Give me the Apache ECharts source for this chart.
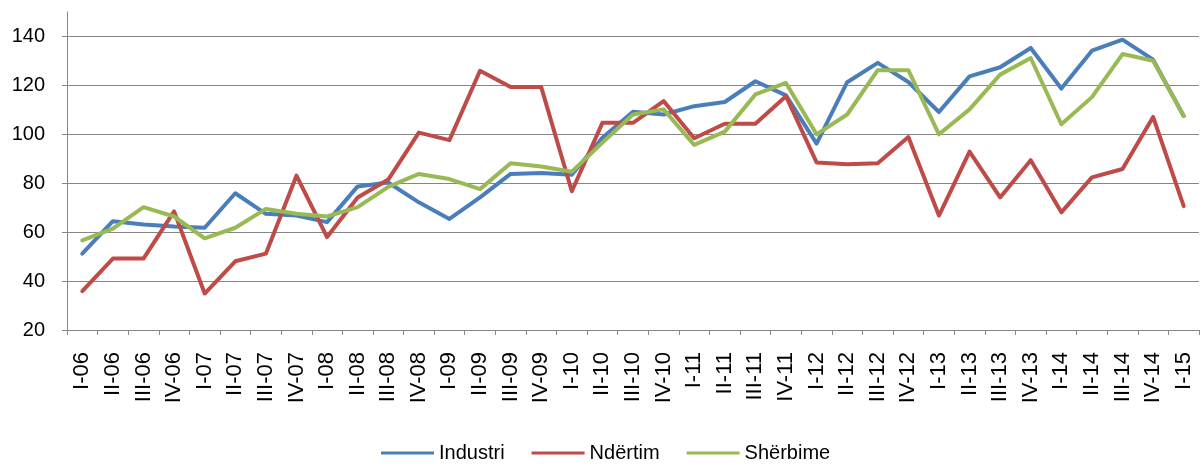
<!DOCTYPE html>
<html>
<head>
<meta charset="utf-8">
<title>Industri, Ndërtim, Shërbime</title>
<script src="https://cdn.jsdelivr.net/npm/echarts@6/dist/echarts.min.js"></script>
<style>
  html, body { margin: 0; padding: 0; background: #fff; }
  #chart { width: 1201px; height: 466px; }
</style>
</head>
<body>
<div id="chart"></div>
<script>
// quarterly index values
const categories = [
  'I-06', 'II-06', 'III-06', 'IV-06',
  'I-07', 'II-07', 'III-07', 'IV-07',
  'I-08', 'II-08', 'III-08', 'IV-08',
  'I-09', 'II-09', 'III-09', 'IV-09',
  'I-10', 'II-10', 'III-10', 'IV-10',
  'I-11', 'II-11', 'III-11', 'IV-11',
  'I-12', 'II-12', 'III-12', 'IV-12',
  'I-13', 'II-13', 'III-13', 'IV-13',
  'I-14', 'II-14', 'III-14', 'IV-14',
  'I-15'
];

const industri = [
  51.2, 64.5, 63.1, 62.3, 61.8, 75.9, 67.5, 66.8, 64.1, 78.7, 80.3, 72.2,
  65.4, 74.2, 83.8, 84.2, 83.5, 98.6, 109.2, 108.1, 111.5, 113.2, 121.7, 115.9,
  96.2, 121.3, 129.2, 121.4, 109.1, 123.7, 127.4, 135.3, 118.7, 134.2, 138.7, 130.5,
  107.5
];

const ndertim = [
  35.9, 49.2, 49.2, 68.5, 34.9, 48.1, 51.2, 83.1, 58.0, 74.2, 81.5, 100.7,
  97.6, 126.0, 119.3, 119.3, 76.7, 104.7, 104.7, 113.6, 98.4, 104.3, 104.3, 115.6,
  88.5, 87.8, 88.2, 98.9, 66.8, 92.9, 74.2, 89.4, 68.1, 82.4, 85.8, 107.1,
  70.6
];

const sherbime = [
  56.6, 61.4, 70.2, 66.4, 57.5, 61.8, 69.5, 67.5, 66.4, 70.2, 78.5, 83.8,
  81.7, 77.6, 88.2, 86.8, 84.7, 96.6, 108.1, 110.2, 95.7, 101.1, 116.3, 121.0,
  100.0, 108.1, 126.2, 126.2, 100.0, 110.2, 124.4, 131.2, 104.1, 115.2, 132.8, 130.1,
  107.5
];

const FONT = '"Liberation Sans", Arial, sans-serif';
const AXIS_GREY = '#868686';

const chart = echarts.init(document.getElementById('chart'), null, { renderer: 'canvas' });

function lineSeries(name, data, color) {
  return {
    name,
    type: 'line',
    data,
    symbol: 'none',
    smooth: false,
    lineStyle: { color, width: 4, cap: 'round', join: 'round' },
    itemStyle: { color },
    emphasis: { disabled: true }
  };
}

chart.setOption({
  animation: false,
  textStyle: { fontFamily: FONT },
  grid: { left: 67, right: 2, top: 12, bottom: 136, containLabel: false },
  legend: {
    left: 376,
    top: 438,
    itemWidth: 53,
    itemHeight: 14,
    itemGap: 27,
    icon: 'path://M0,6 L53,6 L53,9 L0,9 Z',
    textStyle: { fontFamily: FONT, fontSize: 20, color: '#000' },
    data: ['Industri', 'Ndërtim', 'Shërbime']
  },
  xAxis: {
    type: 'category',
    data: categories,
    boundaryGap: true,
    axisLine: { lineStyle: { color: AXIS_GREY, width: 1 } },
    axisTick: { show: true, interval: 0, length: 5, lineStyle: { color: AXIS_GREY } },
    axisLabel: {
      interval: 0,
      rotate: 90,
      margin: 22,
      fontFamily: FONT,
      fontSize: 22,
      color: '#000'
    }
  },
  yAxis: {
    type: 'value',
    min: 20,
    max: 150,
    interval: 20,
    axisLine: { show: true, lineStyle: { color: AXIS_GREY, width: 1 } },
    axisTick: { show: true, length: 5, lineStyle: { color: AXIS_GREY } },
    axisLabel: {
      margin: 22,
      showMaxLabel: false,
      fontFamily: FONT,
      fontSize: 20,
      color: '#000'
    },
    // last entry hides the grid line at the axis max (150)
    splitLine: {
      show: true,
      lineStyle: {
        color: [AXIS_GREY, AXIS_GREY, AXIS_GREY, AXIS_GREY, AXIS_GREY, AXIS_GREY, AXIS_GREY, 'rgba(0,0,0,0)'],
        width: 1
      }
    }
  },
  series: [
    lineSeries('Industri', industri, '#4a7ebb'),
    lineSeries('Ndërtim', ndertim, '#be4b48'),
    lineSeries('Shërbime', sherbime, '#98b954')
  ]
});
</script>
</body>
</html>
